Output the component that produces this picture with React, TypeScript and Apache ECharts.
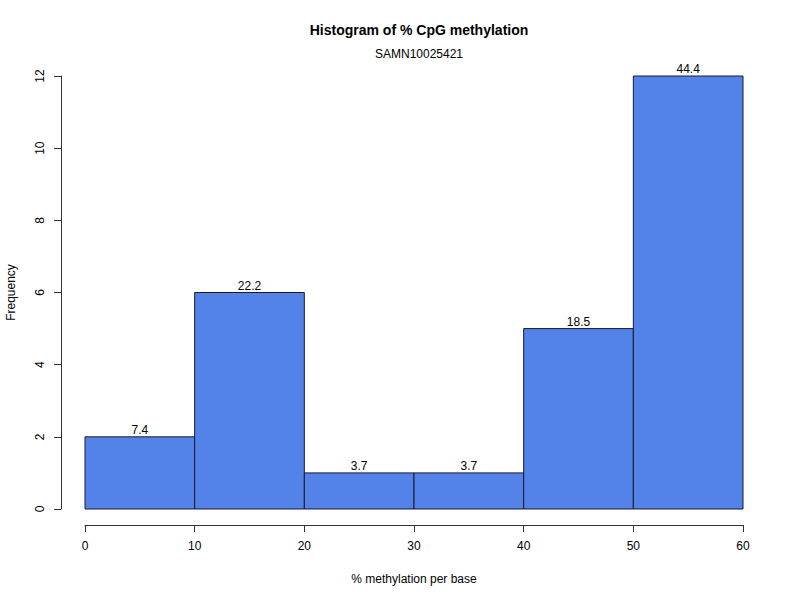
import React, { useEffect, useRef } from "react";
import * as echarts from "echarts";

const binStarts = [0, 10, 20, 30, 40, 50];
const binEnds = [10, 20, 30, 40, 50, 60];
const counts = [2, 6, 1, 1, 5, 12];
const pctLabels = ["7.4", "22.2", "3.7", "3.7", "18.5", "44.4"];

const FONT = "Liberation Sans, Arial, Helvetica, sans-serif";

export default function App() {
  const ref = useRef<HTMLDivElement>(null);
  useEffect(() => {
    if (!ref.current) return;
    const chart = echarts.init(ref.current, undefined, { renderer: "svg" });
    const data = binStarts.map((s, i) => [s, binEnds[i], counts[i], pctLabels[i]]);
    chart.setOption({
      animation: false,
      backgroundColor: "#ffffff",
      title: [
        {
          text: "Histogram of % CpG methylation",
          left: 414,
          top: 18,
          textAlign: "center",
          textStyle: { fontFamily: FONT, fontSize: 14, fontWeight: "bold", color: "#000" },
        },
        {
          text: "SAMN10025421",
          left: 414,
          top: 43,
          textAlign: "center",
          textStyle: { fontFamily: FONT, fontSize: 12, fontWeight: "normal", color: "#000" },
        },
      ],
      grid: { left: 85, right: 57, top: 76, bottom: 91, containLabel: false, outerBoundsMode: "none" },
      xAxis: {
        type: "value",
        min: 0,
        max: 60,
        interval: 10,
        offset: 16,
        name: "% methylation per base",
        nameLocation: "middle",
        nameGap: 48,
        nameTextStyle: { fontFamily: FONT, fontSize: 12, color: "#000" },
        axisLine: { show: true, onZero: false, lineStyle: { color: "#333", width: 1 } },
        axisTick: { show: true, length: 7, lineStyle: { color: "#333" } },
        axisLabel: { fontFamily: FONT, fontSize: 12, color: "#000", margin: 15 },
        splitLine: { show: false },
      },
      yAxis: {
        type: "value",
        min: 0,
        max: 12,
        interval: 2,
        offset: 24,
        name: "Frequency",
        nameLocation: "middle",
        nameGap: 44,
        nameTextStyle: { fontFamily: FONT, fontSize: 12, color: "#000" },
        axisLine: { show: true, onZero: false, lineStyle: { color: "#333", width: 1 } },
        axisTick: { show: true, length: 7, lineStyle: { color: "#333" } },
        axisLabel: { fontFamily: FONT, fontSize: 12, color: "#000", margin: 15, rotate: 90 },
        splitLine: { show: false },
      },
      series: [
        {
          type: "custom",
          data,
          encode: { x: [0, 1], y: 2 },
          renderItem: (params: any, api: any) => {
            const x0 = api.value(0);
            const x1 = api.value(1);
            const c = api.value(2);
            const lbl = pctLabels[params.dataIndex];
            const p0 = api.coord([x0, c]);
            const p1 = api.coord([x1, 0]);
            return {
              type: "group",
              children: [
                {
                  type: "rect",
                  shape: { x: p0[0], y: p0[1], width: p1[0] - p0[0], height: p1[1] - p0[1] },
                  style: { fill: "#5382E8", stroke: "#1a1a2e", lineWidth: 1 },
                },
                {
                  type: "text",
                  style: {
                    text: lbl,
                    x: (p0[0] + p1[0]) / 2,
                    y: p0[1] - 1,
                    textAlign: "center",
                    textVerticalAlign: "bottom",
                    fontFamily: FONT,
                    fontSize: 12,
                    fill: "#000",
                  },
                },
              ],
            };
          },
        },
      ],
    });
    return () => chart.dispose();
  }, []);
  return <div ref={ref} style={{ width: 800, height: 600, position: "absolute", left: 0, top: 0 }} />;
}
